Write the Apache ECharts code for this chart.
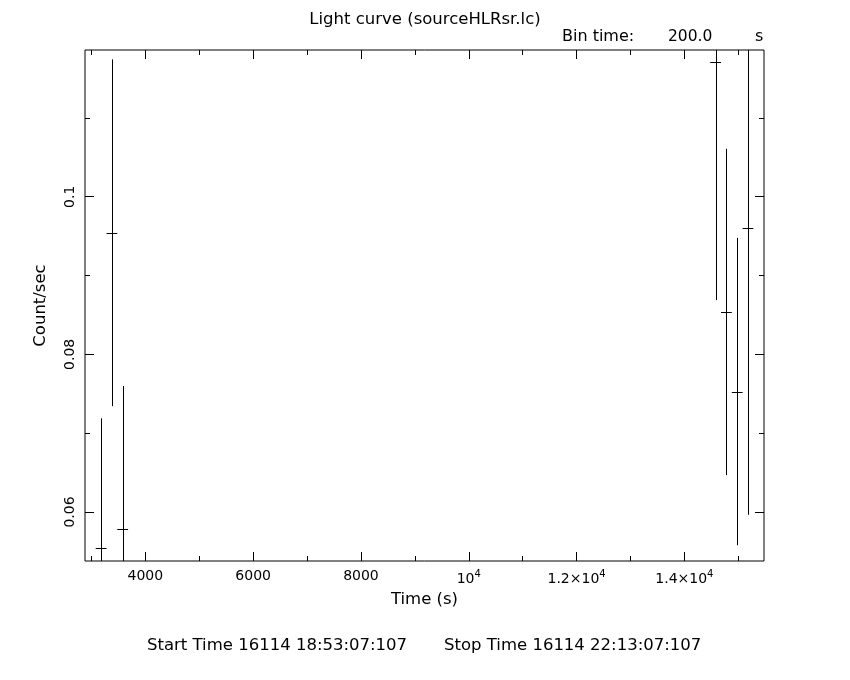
<!DOCTYPE html>
<html>
<head>
<meta charset="utf-8">
<script src="https://cdn.jsdelivr.net/npm/echarts@6/dist/echarts.min.js"></script>
<style>html,body{margin:0;padding:0;background:#fff;}#c{width:850px;height:680px;}</style>
</head>
<body>
<div id="c"></div>
<script>
const times = [3180, 3380, 3580, 14580, 14780, 14980, 15180];
const rates = [0.05538, 0.09543, 0.05779, 0.11708, 0.08538, 0.07528, 0.09604];
const errors = [0.0165, 0.0220, 0.0182, 0.0302, 0.0207, 0.0195, 0.0364];
const binTime = 200;
const xMajor = [4000, 6000, 8000, 10000, 12000, 14000];
const xMinor = [3000, 5000, 7000, 9000, 11000, 13000, 15000];
const yMajor = [0.06, 0.08, 0.1];
const yMinor = [0.07, 0.09, 0.11];
const xRange = [2881, 15477];
const yRange = [0.05378, 0.11862];
const titleText = 'Light curve (sourceHLRsr.lc)';
const binText = ['Bin time:', '200.0', 's'];
const startText = 'Start Time 16114 18:53:07:107';
const stopText = 'Stop Time 16114 22:13:07:107';

const FONT = 'DejaVu Sans';
const gridRect = {left: 85, top: 50, width: 679, height: 511};
const grids = [0,1,2,3].map(i => Object.assign({show: i === 0, borderColor: '#000', borderWidth: 1, backgroundColor: 'transparent'}, gridRect));

function xAxisDef(idx, pos, ticks, len, labels) {
  return {
    type: 'value', gridIndex: idx, position: pos, min: xRange[0], max: xRange[1],
    axisLine: {show: false}, splitLine: {show: false},
    axisTick: {show: true, inside: true, length: len, customValues: ticks, lineStyle: {color: '#000', width: 1}},
    axisLabel: labels ? {
      show: true, customValues: ticks, margin: 8, color: '#000', fontFamily: FONT, fontSize: 14,
      formatter: function (v) {
        if (v === 10000) return '10{sup|4}';
        if (v > 10000) return (v / 10000).toFixed(1) + '\u00d710{sup|4}';
        return String(v);
      },
      rich: {sup: {fontSize: 10, fontFamily: FONT, color: '#000', padding: [0, 0, 10, 0]}}
    } : {show: false},
    name: labels ? 'Time (s)' : '', nameLocation: 'middle', nameGap: 28,
    nameTextStyle: {color: '#000', fontFamily: FONT, fontSize: 16.5}
  };
}
function yAxisDef(idx, pos, ticks, len, labels) {
  return {
    type: 'value', gridIndex: idx, position: pos, min: yRange[0], max: yRange[1],
    axisLine: {show: false}, splitLine: {show: false},
    axisTick: {show: true, inside: true, length: len, customValues: ticks, lineStyle: {color: '#000', width: 1}},
    axisLabel: labels ? {
      show: true, customValues: ticks, margin: 8, rotate: 90, color: '#000', fontFamily: FONT, fontSize: 14,
      formatter: v => String(+v.toFixed(2))
    } : {show: false},
    name: labels ? 'Count/sec' : '', nameLocation: 'middle', nameGap: 36, nameRotate: 90,
    nameTextStyle: {color: '#000', fontFamily: FONT, fontSize: 16.5}
  };
}

const data = times.map((t, i) => [t, rates[i], errors[i]]);
const crisp = v => Math.round(v) + 0.5;

const chart = echarts.init(document.getElementById('c'), null, {renderer: 'canvas'});
chart.setOption({
  backgroundColor: '#fff',
  animation: false,
  title: {text: titleText, left: 'center', top: 6, textStyle: {color: '#000', fontFamily: FONT, fontSize: 16.5, fontWeight: 'normal'}},
  grid: grids,
  xAxis: [xAxisDef(0, 'bottom', xMajor, 9, true), xAxisDef(1, 'bottom', xMinor, 5, false),
          xAxisDef(2, 'top', xMajor, 9, false), xAxisDef(3, 'top', xMinor, 5, false)],
  yAxis: [yAxisDef(0, 'left', yMajor, 9, true), yAxisDef(1, 'left', yMinor, 5, false),
          yAxisDef(2, 'right', yMajor, 9, false), yAxisDef(3, 'right', yMinor, 5, false)],
  graphic: [
    {type: 'text', left: 562, top: 29, style: {text: binText[0], fill: '#000', font: '16px "' + FONT + '"'}},
    {type: 'text', left: 668, top: 29, style: {text: binText[1], fill: '#000', font: '15.5px "' + FONT + '"'}},
    {type: 'text', left: 755, top: 29, style: {text: binText[2], fill: '#000', font: '16px "' + FONT + '"'}},
    {type: 'text', left: 147, top: 637, style: {text: startText, fill: '#000', font: '16.5px "' + FONT + '"'}},
    {type: 'text', left: 444, top: 637, style: {text: stopText, fill: '#000', font: '16.5px "' + FONT + '"'}}
  ],
  series: [{
    type: 'custom', xAxisIndex: 0, yAxisIndex: 0, clip: true, data: data,
    renderItem: function (params, api) {
      const x = api.value(0), y = api.value(1), e = api.value(2);
      const c = api.coord([x, y]);
      const lo = api.coord([x, y - e]);
      const hi = api.coord([x, y + e]);
      const l = api.coord([x - binTime / 2, y]);
      const r = api.coord([x + binTime / 2, y]);
      const cx = crisp(c[0]), cy = crisp(c[1]);
      return {type: 'group', children: [
        {type: 'line', shape: {x1: cx, y1: lo[1], x2: cx, y2: hi[1]}, style: {stroke: '#000', lineWidth: 1}},
        {type: 'line', shape: {x1: l[0], y1: cy, x2: r[0], y2: cy}, style: {stroke: '#000', lineWidth: 1}}
      ]};
    }
  }]
});
</script>
</body>
</html>
